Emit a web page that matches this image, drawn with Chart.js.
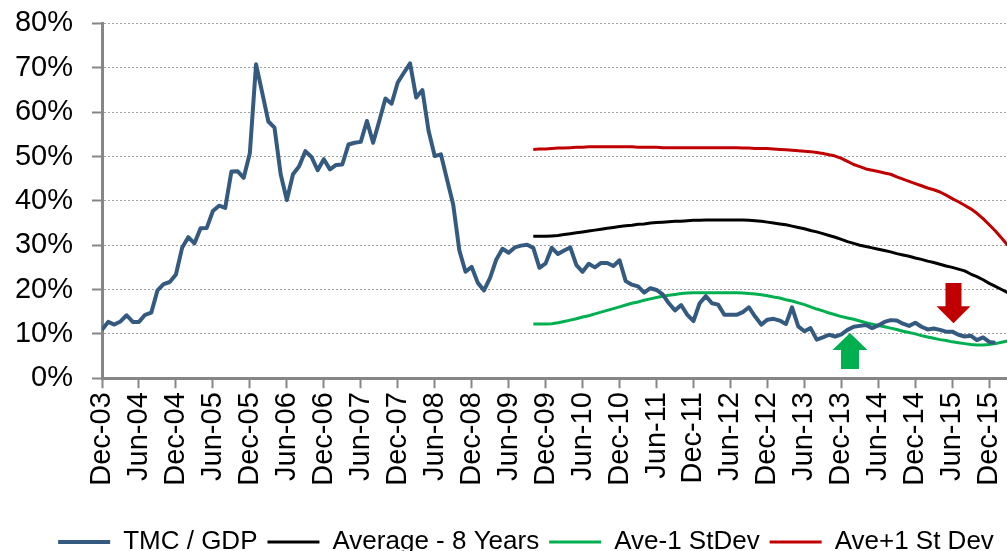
<!DOCTYPE html>
<html>
<head>
<meta charset="utf-8">
<script src="https://cdn.jsdelivr.net/npm/chart.js@4/dist/chart.umd.min.js"></script>
<style>
  html, body { margin: 0; padding: 0; overflow: hidden; background: #fff; }
  #wrap { position: relative; width: 1065px; height: 565px; }
</style>
</head>
<body>
<div id="wrap"><canvas id="myChart"></canvas></div>
<script>
// month index 0 = Dec-03, one point per month

// axis labels, one every 6 months
const tickLabels = ["Dec-03", "Jun-04", "Dec-04", "Jun-05", "Dec-05", "Jun-06", "Dec-06", "Jun-07",
  "Dec-07", "Jun-08", "Dec-08", "Jun-09", "Dec-09", "Jun-10", "Dec-10", "Jun-11", "Dec-11",
  "Jun-12", "Dec-12", "Jun-13", "Dec-13", "Jun-14", "Dec-14", "Jun-15", "Dec-15", "Jun-16"];

// TMC / GDP, % (Dec-03 onwards)
const tmcGdp = [
  10.9, 12.7, 12.1, 12.8, 14.2, 12.7, 12.7, 14.3, 14.8, 19.8, 21.2, 21.7,
  23.4, 29.4, 31.8, 30.4, 33.8, 33.9, 37.7, 38.9, 38.4, 46.6, 46.7, 45.2,
  50.8, 70.8, 64.4, 57.9, 56.5, 46.0, 40.2, 46.0, 47.8, 51.2, 49.9, 46.9,
  49.4, 47.1, 48.1, 48.2, 52.7, 53.1, 53.3, 58.0, 53.1, 58.0, 63.1, 61.9,
  66.7, 68.9, 71.0, 63.3, 65.0, 55.8, 50.1, 50.5, 44.8, 39.2, 28.8, 24.0,
  25.1, 21.5, 19.8, 22.7, 26.8, 29.2, 28.3, 29.5, 29.9, 30.1, 29.4, 24.9,
  25.9, 29.4, 28.0, 28.8, 29.5, 25.5, 24.0, 25.8, 25.0, 26.0, 26.0, 25.3,
  26.6, 21.9, 21.1, 20.7, 19.3, 20.3, 19.9, 18.9, 16.9, 15.3, 16.5, 14.3,
  12.9, 16.9, 18.5, 16.9, 16.6, 14.3, 14.3, 14.3, 14.9, 16.0, 13.9, 12.1,
  13.2, 13.4, 13.0, 12.2, 16.0, 11.7, 10.6, 11.3, 8.7, 9.2, 9.8, 9.4,
  9.9, 10.9, 11.6, 11.8, 12.0, 11.3, 11.9, 12.7, 13.1, 13.0, 12.3, 11.8,
  12.5, 11.6, 11.0, 11.2, 10.9, 10.5, 10.5, 9.8, 9.4, 9.6, 8.6, 9.2,
  8.2, 8.0
];

// the three band lines start at month 70 (Oct-09)
const bandStart = 70;

const average8y = [
  32.0, 32.0, 32.0, 32.1, 32.2, 32.4, 32.6, 32.8, 33.0, 33.2,
  33.4, 33.6, 33.8, 34.0, 34.2, 34.4, 34.5, 34.7, 34.8, 35.0,
  35.1, 35.2, 35.3, 35.4, 35.4, 35.5, 35.6, 35.6, 35.7, 35.7,
  35.7, 35.7, 35.7, 35.7, 35.7, 35.6, 35.5, 35.4, 35.2, 35.0,
  34.8, 34.6, 34.3, 34.0, 33.7, 33.3, 33.0, 32.6, 32.2, 31.8,
  31.3, 30.8, 30.4, 30.0, 29.7, 29.4, 29.1, 28.8, 28.5, 28.1,
  27.8, 27.5, 27.1, 26.8, 26.4, 26.1, 25.7, 25.3, 25.0, 24.6,
  24.2, 23.5, 22.9, 22.2, 21.4, 20.7, 20.0, 19.3
];

const aveMinus1 = [
  12.2, 12.2, 12.2, 12.3, 12.5, 12.8, 13.1, 13.4, 13.8, 14.1,
  14.5, 14.9, 15.3, 15.7, 16.1, 16.5, 16.9, 17.2, 17.6, 17.9,
  18.2, 18.5, 18.7, 18.9, 19.1, 19.2, 19.3, 19.3, 19.3, 19.3,
  19.3, 19.3, 19.3, 19.3, 19.2, 19.1, 19.0, 18.8, 18.6, 18.3,
  18.1, 17.7, 17.4, 17.0, 16.6, 16.1, 15.6, 15.2, 14.7, 14.3,
  13.9, 13.6, 13.3, 12.9, 12.5, 12.2, 11.9, 11.6, 11.3, 11.0,
  10.6, 10.3, 10.0, 9.6, 9.3, 9.0, 8.7, 8.5, 8.2, 8.0,
  7.8, 7.6, 7.5, 7.5, 7.6, 7.8, 8.1, 8.4
];

const avePlus1 = [
  51.6, 51.7, 51.7, 51.8, 51.9, 51.9, 52.0, 52.1, 52.1, 52.2,
  52.2, 52.2, 52.2, 52.2, 52.2, 52.2, 52.2, 52.1, 52.1, 52.1,
  52.1, 52.0, 52.0, 52.0, 52.0, 52.0, 52.0, 52.0, 52.0, 52.0,
  52.0, 52.0, 52.0, 52.0, 51.9, 51.9, 51.8, 51.8, 51.8, 51.7,
  51.6, 51.5, 51.4, 51.3, 51.2, 51.1, 50.9, 50.7, 50.4, 50.1,
  49.6, 48.9, 48.2, 47.7, 47.2, 46.9, 46.6, 46.3, 46.0, 45.4,
  44.9, 44.4, 43.9, 43.4, 42.9, 42.5, 42.0, 41.3, 40.5, 39.8,
  39.0, 38.2, 37.2, 36.0, 34.6, 33.2, 31.6, 30.0
];

// block arrows: month, value at tail, value at tip
const arrows = [
  { month: 138.2, from: 21.5, to: 12.4, color: "#c00000", head: 17, shaft: 8 },
  { month: 121.4, from: 2.1, to: 10.2, color: "#00b050", head: 17.5, shaft: 9 }
];

const toPoints = (values, start) => values.map((v, i) => ({ x: start + i, y: v }));

const arrowPlugin = {
  id: "blockArrows",
  afterDatasetsDraw(chart) {
    const { ctx, scales } = chart;
    arrows.forEach(a => {
      const cx = scales.x.getPixelForValue(a.month);
      const yFrom = scales.y.getPixelForValue(a.from);
      const yTo = scales.y.getPixelForValue(a.to);
      const dir = yTo > yFrom ? 1 : -1;
      const neck = yTo - dir * 17;
      ctx.save();
      ctx.beginPath();
      ctx.moveTo(cx - a.shaft, yFrom);
      ctx.lineTo(cx + a.shaft, yFrom);
      ctx.lineTo(cx + a.shaft, neck);
      ctx.lineTo(cx + a.head, neck);
      ctx.lineTo(cx, yTo);
      ctx.lineTo(cx - a.head, neck);
      ctx.lineTo(cx - a.shaft, neck);
      ctx.closePath();
      ctx.fillStyle = a.color;
      ctx.fill();
      ctx.restore();
    });
  }
};

const FONT = "'Liberation Sans', Arial, sans-serif";
const AXIS_GREY = "#868686";

new Chart(document.getElementById("myChart"), {
  type: "line",
  data: {
    datasets: [
      { label: "TMC / GDP", data: toPoints(tmcGdp, 0), borderColor: "#355a80", backgroundColor: "#355a80", borderWidth: 4 },
      { label: "Average - 8 Years", data: toPoints(average8y, bandStart), borderColor: "#000000", backgroundColor: "#000000", borderWidth: 3 },
      { label: "Ave-1 StDev", data: toPoints(aveMinus1, bandStart), borderColor: "#00b050", backgroundColor: "#00b050", borderWidth: 3 },
      { label: "Ave+1 St Dev", data: toPoints(avePlus1, bandStart), borderColor: "#c00000", backgroundColor: "#c00000", borderWidth: 3 }
    ]
  },
  options: {
    responsive: true,
    maintainAspectRatio: false,
    animation: false,
    layout: { padding: { top: 0, right: 13, left: 0, bottom: 0 } },
    elements: {
      point: { radius: 0, hoverRadius: 0 },
      line: { tension: 0, fill: false, borderJoinStyle: "round" }
    },
    plugins: {
      tooltip: { enabled: false },
      legend: {
        position: "bottom",
        labels: {
          usePointStyle: true,
          pointStyle: "line",
          pointStyleWidth: 52,
          color: "#000",
          padding: 10,
          font: { family: FONT, size: 26 }
        }
      }
    },
    scales: {
      x: {
        type: "linear",
        min: 0,
        max: 150,
        afterFit: scale => { scale.height += 29.3; },
        grid: {
          drawOnChartArea: false,
          drawTicks: true,
          tickLength: 10,
          tickColor: AXIS_GREY,
          tickWidth: 2
        },
        border: { display: true, color: AXIS_GREY, width: 3 },
        ticks: {
          stepSize: 6,
          autoSkip: false,
          includeBounds: false,
          maxRotation: 90,
          minRotation: 90,
          padding: 4,
          color: "#000",
          font: { family: FONT, size: 29 },
          callback: v => (v % 6 === 0 && tickLabels[v / 6]) ? tickLabels[v / 6] : null
        }
      },
      y: {
        min: 0,
        max: 80,
        afterFit: scale => { scale.width = 102; },
        grid: {
          color: "#a0a0a0",
          lineWidth: 1,
          drawTicks: true,
          tickLength: 10,
          tickColor: AXIS_GREY,
          tickWidth: 2,
          tickBorderDash: []
        },
        border: { display: true, color: AXIS_GREY, width: 3, dash: [2, 2] },
        ticks: {
          stepSize: 10,
          padding: 19,
          color: "#000",
          font: { family: FONT, size: 29, lineHeight: 0.31 },
          callback: v => v + "%"
        }
      }
    }
  },
  plugins: [arrowPlugin]
});
</script>
</body>
</html>
